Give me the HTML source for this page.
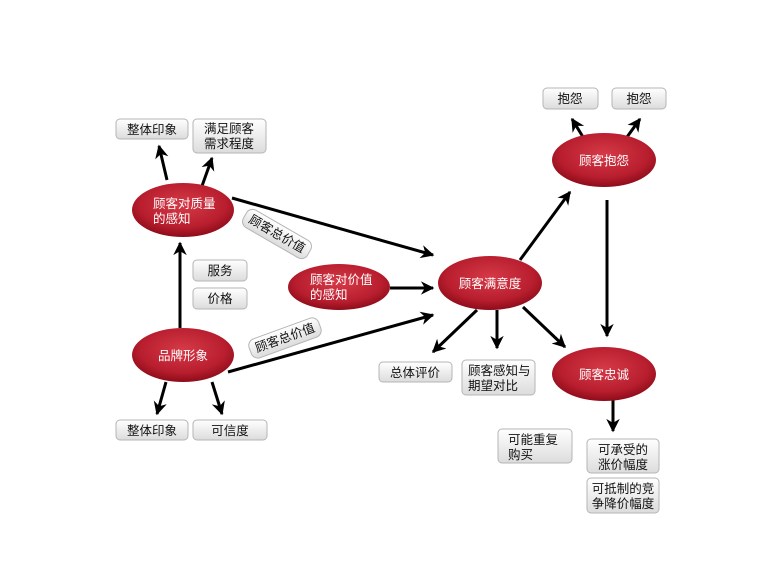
<!DOCTYPE html>
<html><head><meta charset="utf-8"><style>
html,body{margin:0;padding:0;background:#fff;}
svg{display:block;font-family:"Liberation Sans","Noto Sans CJK SC",sans-serif;}
</style></head><body>
<svg width="779" height="572" viewBox="0 0 779 572" xmlns="http://www.w3.org/2000/svg">
<defs>
<radialGradient id="eg" cx="50%" cy="40%" r="60%">
<stop offset="0" stop-color="#d63a48"/><stop offset="0.7" stop-color="#b81e2e"/><stop offset="1" stop-color="#8e0c1a"/>
</radialGradient>
<linearGradient id="bg" x1="0" y1="0" x2="0" y2="1">
<stop offset="0" stop-color="#ffffff"/><stop offset="1" stop-color="#dcdcdc"/>
</linearGradient>
<marker id="ah" viewBox="0 0 10 10" refX="9" refY="5" markerWidth="4.5" markerHeight="4.5" orient="auto">
<path d="M0,0 L10,5 L0,10 L3,5 z" fill="#000"/>
</marker>
</defs>
<g stroke="#000" stroke-width="3" fill="none" marker-end="url(#ah)">
<line x1="167" y1="180" x2="159" y2="146"/>
<line x1="202" y1="186" x2="212" y2="158"/>
<line x1="180" y1="328" x2="180" y2="243"/>
<line x1="166" y1="382" x2="157" y2="414"/>
<line x1="212" y1="382" x2="222" y2="414"/>
<line x1="232" y1="198" x2="433" y2="255"/>
<line x1="390" y1="288" x2="433" y2="288"/>
<line x1="228" y1="372" x2="433" y2="315"/>
<line x1="520" y1="260" x2="570" y2="192"/>
<line x1="583" y1="137" x2="572" y2="119"/>
<line x1="627" y1="137" x2="640" y2="119"/>
<line x1="607" y1="200" x2="607" y2="336"/>
<line x1="477" y1="310" x2="433" y2="352"/>
<line x1="497" y1="310" x2="497" y2="348"/>
<line x1="523" y1="307" x2="565" y2="347"/>
<line x1="613" y1="400" x2="613" y2="431"/>
</g>
<g fill="url(#eg)">
<ellipse cx="183" cy="210" rx="51" ry="27"/>
<ellipse cx="183" cy="355" rx="51" ry="27"/>
<ellipse cx="339" cy="287" rx="51" ry="23"/>
<ellipse cx="490" cy="283" rx="52" ry="27"/>
<ellipse cx="604" cy="160" rx="52" ry="27"/>
<ellipse cx="604" cy="374" rx="52" ry="27"/>
</g>
<g fill="#fff" font-size="12.5">
<text x="153" y="208">顾客对质量</text><text x="153" y="223">的感知</text>
<text x="183" y="360" text-anchor="middle">品牌形象</text>
<text x="310" y="284">顾客对价值</text><text x="310" y="299">的感知</text>
<text x="490" y="288" text-anchor="middle">顾客满意度</text>
<text x="604" y="165" text-anchor="middle">顾客抱怨</text>
<text x="604" y="379" text-anchor="middle">顾客忠诚</text>
</g>
<g fill="url(#bg)" stroke="#b5b5b5" stroke-width="1">
<rect x="116" y="119" width="72" height="20" rx="4"/>
<rect x="193" y="119" width="73" height="34" rx="4"/>
<rect x="193" y="260" width="54" height="21" rx="4"/>
<rect x="193" y="288" width="54" height="21" rx="4"/>
<rect x="116" y="420" width="72" height="20" rx="4"/>
<rect x="193" y="420" width="74" height="20" rx="4"/>
<rect x="543" y="88" width="55" height="21" rx="4"/>
<rect x="612" y="88" width="54" height="21" rx="4"/>
<rect x="379" y="362" width="73" height="20" rx="4"/>
<rect x="462" y="360" width="73" height="35" rx="4"/>
<rect x="498" y="429" width="74" height="34" rx="4"/>
<rect x="587" y="439" width="72" height="34" rx="4"/>
<rect x="587" y="478" width="72" height="35" rx="4"/>
<rect x="240" y="224" width="74" height="20" rx="7" transform="rotate(30 277 234)"/>
<rect x="248" y="328" width="74" height="20" rx="7" transform="rotate(-20 285 338)"/>
</g>
<g fill="#111" font-size="12.5">
<text x="152" y="134" text-anchor="middle">整体印象</text>
<text x="229" y="133" text-anchor="middle">满足顾客</text><text x="229" y="148" text-anchor="middle">需求程度</text>
<text x="220" y="275" text-anchor="middle">服务</text>
<text x="220" y="303" text-anchor="middle">价格</text>
<text x="152" y="435" text-anchor="middle">整体印象</text>
<text x="230" y="435" text-anchor="middle">可信度</text>
<text x="570" y="103" text-anchor="middle">抱怨</text>
<text x="639" y="103" text-anchor="middle">抱怨</text>
<text x="415" y="377" text-anchor="middle">总体评价</text>
<text x="468" y="375">顾客感知与</text><text x="468" y="390">期望对比</text>
<text x="508" y="444">可能重复</text><text x="508" y="459">购买</text>
<text x="623" y="454" text-anchor="middle">可承受的</text><text x="623" y="469" text-anchor="middle">涨价幅度</text>
<text x="623" y="493" text-anchor="middle">可抵制的竞</text><text x="623" y="508" text-anchor="middle">争降价幅度</text>
<text x="277" y="238" text-anchor="middle" transform="rotate(30 277 234)">顾客总价值</text>
<text x="285" y="342" text-anchor="middle" transform="rotate(-20 285 338)">顾客总价值</text>
</g>
</svg>
</body></html>
